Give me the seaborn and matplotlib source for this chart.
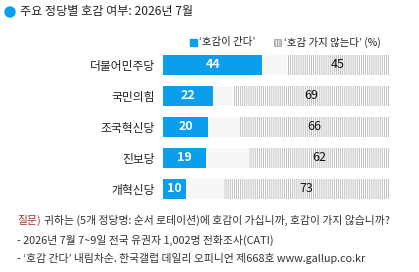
import seaborn as sns
import matplotlib.pyplot as plt
import pandas as pd

# data
parties = ['더불어민주당', '국민의힘', '조국혁신당', '진보당', '개혁신당']
favorable = [44, 22, 20, 19, 10]
unfavorable = [45, 69, 66, 62, 73]

df = pd.DataFrame({'party': parties, 'fav': favorable, 'unfav': unfavorable})
df['full'] = 100
df['rest'] = 100 - df['unfav']

sns.set_theme(style='white')
plt.rcParams['font.family'] = ['Noto Sans CJK KR', 'DejaVu Sans']
plt.rcParams['hatch.linewidth'] = 0.6
plt.rcParams['hatch.color'] = '#b5b5b5'

BLUE = '#0a9eec'
HATCH = '||||||||'

fig = plt.figure(figsize=(4.19, 2.72), dpi=100)
ax = fig.add_axes([163 / 419, 1 - 199 / 272, 226 / 419, 144 / 272])

w = 20 / 31
# hatched "not favorable" layer across the whole bar, then light grey gap, then blue
sns.barplot(data=df, y='party', x='full', orient='h', color='white', width=w,
            saturation=1, ax=ax, hatch=HATCH, edgecolor='#b5b5b5', linewidth=0)
sns.barplot(data=df, y='party', x='rest', orient='h', color='#f7f7f7', width=w,
            saturation=1, ax=ax, linewidth=0)
sns.barplot(data=df, y='party', x='fav', orient='h', color=BLUE, width=w,
            saturation=1, ax=ax, linewidth=0)

for i, (f, u) in enumerate(zip(favorable, unfavorable)):
    ax.text(f / 2, i, str(f), ha='center', va='center', color='white',
            fontsize=9, fontweight='bold')
    ax.text(100 - u / 2, i, str(u), ha='center', va='center', color='#111111',
            fontsize=9)

ax.set_xlim(0, 100)
ax.set_ylim(4 + w / 2, -w / 2)
ax.set_xlabel('')
ax.set_ylabel('')
ax.set_xticks([])
ax.tick_params(axis='y', length=0, pad=6, labelsize=8.5, labelcolor='#222222')
sns.despine(ax=ax, left=True, bottom=True)

# title with blue dot
fig.patches.append(plt.Circle((0.10, 2.72 - 0.12), 0.05,
                              transform=fig.dpi_scale_trans, color=BLUE))
fig.text(20 / 419, 1 - 12 / 272, '주요 정당별 호감 여부: 2026년 7월', fontsize=8.7,
         color='#222222', ha='left', va='center')

# legend
ly = 1 - 42.5 / 272
fig.patches.append(plt.Rectangle((190 / 419, 1 - 46 / 272), 7 / 419, 7 / 272,
                                 transform=fig.transFigure, color=BLUE))
fig.text(199 / 419, ly, "‘호감이 간다’", fontsize=7.5, color='#222222', va='center')
fig.patches.append(plt.Rectangle((274 / 419, 1 - 46 / 272), 7 / 419, 7 / 272,
                                 transform=fig.transFigure, facecolor='white',
                                 edgecolor='#9a9a9a', hatch='||||||||||', linewidth=0.5))
fig.text(284 / 419, ly, "‘호감 가지 않는다’ (%)", fontsize=7.5, color='#222222', va='center')

# footnotes
fs = 7.8
fig.text(17 / 419, 1 - 220 / 272, '질문)', fontsize=fs, color='#a8332b', va='center')
fig.text(44 / 419, 1 - 220 / 272,
         '귀하는 (5개 정당명: 순서 로테이션)에 호감이 가십니까, 호감이 가지 않습니까?',
         fontsize=fs, color='#333333', va='center')
fig.text(17 / 419, 1 - 240 / 272, '- 2026년 7월 7~9일 전국 유권자 1,002명 전화조사(CATI)',
         fontsize=fs, color='#333333', va='center')
fig.text(17 / 419, 1 - 258 / 272,
         "- ‘호감 간다’ 내림차순. 한국갤럽 데일리 오피니언 제668호 www.gallup.co.kr",
         fontsize=fs, color='#333333', va='center')

fig.savefig('out.png', dpi=100)
